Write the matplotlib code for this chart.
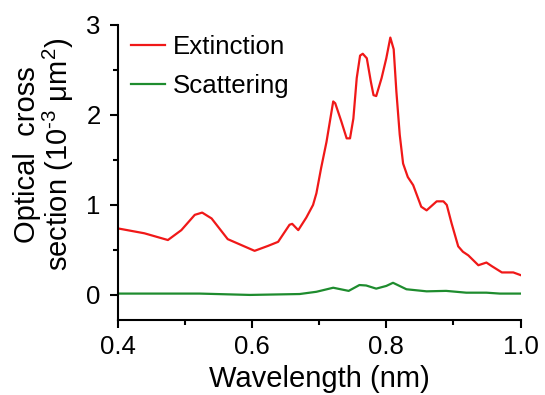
import numpy as np
import matplotlib.pyplot as plt
from matplotlib.ticker import MultipleLocator

plt.rcParams['font.family'] = ['Liberation Sans', 'DejaVu Sans']
plt.rcParams['mathtext.fontset'] = 'custom'
plt.rcParams['mathtext.rm'] = 'Liberation Sans'
plt.rcParams['mathtext.it'] = 'Liberation Sans:italic'

# extinction spectrum
wl_ext = [0.400, 0.440, 0.475, 0.495, 0.515, 0.526, 0.540, 0.564, 0.584, 0.604,
          0.624, 0.639, 0.656, 0.660, 0.669, 0.681, 0.691, 0.696, 0.703, 0.711,
          0.721, 0.724, 0.733, 0.741, 0.746, 0.751, 0.756, 0.761, 0.765, 0.771,
          0.777, 0.781, 0.785, 0.793, 0.800, 0.806, 0.811, 0.815, 0.820, 0.825,
          0.832, 0.840, 0.852, 0.860, 0.875, 0.885, 0.890, 0.897, 0.907, 0.914,
          0.922, 0.937, 0.949, 0.957, 0.972, 0.989, 1.000]
ext = [0.74, 0.685, 0.61, 0.72, 0.89, 0.915, 0.85, 0.62, 0.555, 0.49,
       0.545, 0.59, 0.78, 0.79, 0.72, 0.86, 1.00, 1.13, 1.41, 1.70,
       2.15, 2.13, 1.93, 1.74, 1.74, 1.96, 2.41, 2.66, 2.68, 2.63,
       2.37, 2.22, 2.21, 2.41, 2.63, 2.86, 2.73, 2.26, 1.78, 1.46,
       1.31, 1.22, 0.98, 0.94, 1.04, 1.04, 1.00, 0.80, 0.54, 0.48,
       0.44, 0.33, 0.36, 0.32, 0.25, 0.25, 0.22]

# scattering spectrum
wl_sca = [0.400, 0.522, 0.597, 0.671, 0.696, 0.721, 0.744, 0.760, 0.770, 0.785,
          0.800, 0.810, 0.830, 0.860, 0.889, 0.919, 0.949, 0.969, 1.000]
sca = [0.015, 0.015, 0.0, 0.01, 0.035, 0.08, 0.045, 0.11, 0.105, 0.07,
       0.10, 0.135, 0.063, 0.04, 0.045, 0.025, 0.025, 0.015, 0.015]

fig = plt.figure(figsize=(5.45, 3.95), dpi=100)
ax = fig.add_axes([0.2156, 0.19, 0.7398, 0.7468])

ax.plot(wl_ext, ext, color='#f01818', lw=1.6, label='Extinction')
ax.plot(wl_sca, sca, color='#1e8c2e', lw=1.6, label='Scattering')

ax.set_xlim(0.4, 1.0)
ax.set_ylim(-0.278, 3.0)
ax.xaxis.set_major_locator(MultipleLocator(0.2))
ax.xaxis.set_minor_locator(MultipleLocator(0.1))
ax.yaxis.set_major_locator(MultipleLocator(1))
ax.yaxis.set_minor_locator(MultipleLocator(0.5))
ax.xaxis.set_major_formatter(plt.FormatStrFormatter('%.1f'))

for s in ['top', 'right']:
    ax.spines[s].set_visible(False)
for s in ['left', 'bottom']:
    ax.spines[s].set_linewidth(1.5)

ax.tick_params(which='major', direction='out', length=6, width=1.5, labelsize=18.5)
ax.tick_params(axis='y', which='major', pad=6)
ax.tick_params(axis='x', which='major', pad=5)
ax.tick_params(which='minor', direction='out', length=3.6, width=1.5)

ax.set_xlabel('Wavelength (nm)', fontsize=21, labelpad=4)
fig.text(0.0817, 0.608, 'Optical  cross\nsection (10$^{\\text{-3}}$ μm$^{2}$)', fontsize=21,
         rotation=90, ha='center', va='center', multialignment='center', linespacing=1.0)

ax.legend(loc='upper left', frameon=False, fontsize=18.6, handlelength=1.3,
          handletextpad=0.3, labelspacing=0.56, borderpad=0, borderaxespad=0,
          bbox_to_anchor=(0.034, 0.965))

plt.savefig('out.png', dpi=100)
